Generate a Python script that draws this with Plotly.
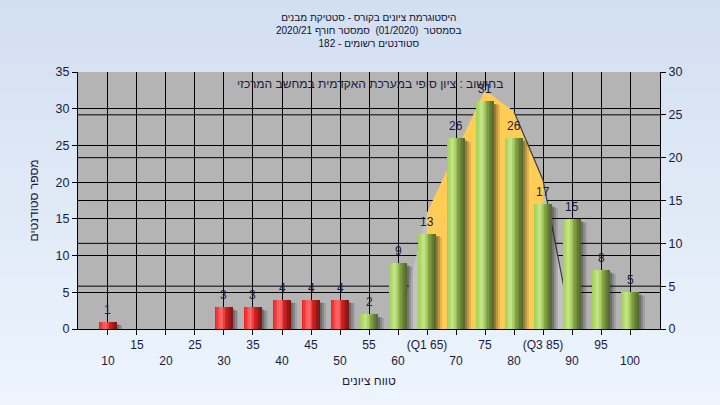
import plotly.graph_objects as go

# ---------------- data ----------------
grades = [10, 15, 20, 25, 30, 35, 40, 45, 50, 55, 60, 65, 70, 75, 80, 85, 90, 95, 100]
counts = [1, 0, 0, 0, 3, 3, 4, 4, 4, 2, 9, 13, 26, 31, 26, 17, 15, 8, 5]
tick_labels = ["10", "15", "20", "25", "30", "35", "40", "45", "50", "55", "60",
               "(Q1 65)", "70", "75", "80", "(Q3 85)", "90", "95", "100"]
curve_grades = [60, 65, 70, 75, 80, 85, 90]
curve_values = [0, 15.8, 24.2, 32.5, 29.6, 20.3, 0]
q1_grade = 65
q3_grade = 85
pass_grade = 55
left_ticks = [0, 5, 10, 15, 20, 25, 30, 35]
right_ticks = [0, 5, 10, 15, 20, 25, 30]
title_lines = ["היסטוגרמת ציונים בקורס - סטטיקת מבנים",
               "בסמסטר  (01/2020)  סמסטר חורף 2020/21",
               "סטודנטים רשומים - 182"]
note_text = "בחישוב : ציון סופי במערכת האקדמית במחשב המרכזי"
x_title = "טווח ציונים"
y_title = "מספר סטודנטים"

# ---------------- styling helpers ----------------
FONT = "Liberation Sans, Arial, Noto Sans, DejaVu Sans"
TXT = "#1a1a40"
BAR_W = 3.0
N_SLICES = 12

red_stops = [(0.0, (240, 25, 25)), (0.4, (252, 115, 115)), (0.62, (220, 35, 35)), (1.0, (120, 20, 20))]
green_stops = [(0.0, (160, 205, 80)), (0.35, (200, 232, 140)), (0.6, (140, 175, 70)), (1.0, (80, 100, 45))]


def interp(stops, t):
    for (t0, c0), (t1, c1) in zip(stops[:-1], stops[1:]):
        if t0 <= t <= t1:
            f = (t - t0) / (t1 - t0)
            return "rgb(%d,%d,%d)" % tuple(round(a + (b - a) * f) for a, b in zip(c0, c1))
    return "rgb(%d,%d,%d)" % stops[-1][1]


fig = go.Figure()

# distribution area (grey) and inter-quartile area (yellow) on the main (bottom) subplot
fig.add_trace(go.Scatter(x=curve_grades, y=curve_values, fill="toself", mode="lines",
                         line=dict(width=0), fillcolor="rgb(194,194,194)",
                         hoverinfo="skip", showlegend=False))
iqr_x = [q1_grade] + [g for g in curve_grades if q1_grade <= g <= q3_grade] + [q3_grade]
iqr_y = [0] + [v for g, v in zip(curve_grades, curve_values) if q1_grade <= g <= q3_grade] + [0]
fig.add_trace(go.Scatter(x=iqr_x, y=iqr_y, fill="toself", mode="lines",
                         line=dict(width=0), fillcolor="rgb(255,204,85)",
                         hoverinfo="skip", showlegend=False))
edge_x = [g for g in curve_grades if g >= 80]
edge_y = [v for g, v in zip(curve_grades, curve_values) if g >= 80]
fig.add_trace(go.Scatter(x=edge_x, y=edge_y, mode="lines",
                         line=dict(width=1.2, color="rgb(60,60,60)"),
                         hoverinfo="skip", showlegend=False))

# empty trace to anchor right axis
fig.add_trace(go.Scatter(x=[], y=[], yaxis="y2", showlegend=False))

# shadows (overlay subplot, above the areas)
for off, alpha, dy in [(1.0, 0.12, 0.5), (0.7, 0.18, 0.4), (0.45, 0.22, 0.3)]:
    fig.add_trace(go.Bar(x=grades, y=[max(c - dy, 0) if c > 0 else 0 for c in counts],
                         width=BAR_W, offset=-BAR_W / 2 + off, yaxis="y3",
                         marker=dict(color="rgba(20,20,20,%.2f)" % alpha, line=dict(width=0)),
                         hoverinfo="skip", showlegend=False))

# cylinder-shaded bars
for k in range(N_SLICES):
    t = (k + 0.5) / N_SLICES
    cols = [interp(green_stops if g >= pass_grade else red_stops, t) for g in grades]
    fig.add_trace(go.Bar(x=grades, y=counts, width=BAR_W / N_SLICES * 1.05,
                         offset=-BAR_W / 2 + k * BAR_W / N_SLICES, yaxis="y3",
                         marker=dict(color=cols, line=dict(width=0)),
                         hoverinfo="skip", showlegend=False))

shapes = []
# page gradient
n_strips = 30
for i in range(n_strips):
    f = i / (n_strips - 1)
    c = tuple(round(a + (b - a) * f) for a, b in zip((210, 223, 241), (238, 245, 253)))
    shapes.append(dict(type="rect", xref="paper", yref="paper", layer="below",
                       x0=-0.2, x1=1.2,
                       y0=1.3 - (i + 1) * 1.65 / n_strips, y1=1.3 - i * 1.65 / n_strips + 0.005,
                       fillcolor="rgb(%d,%d,%d)" % c, line=dict(width=0)))
# plot background
shapes.append(dict(type="rect", xref="x domain", yref="y domain", layer="below",
                   x0=0, x1=1, y0=0, y1=1, fillcolor="rgb(180,180,180)", line=dict(width=0)))
# right axis grid
for v in right_ticks[1:-1]:
    shapes.append(dict(type="line", xref="x domain", yref="y2", layer="below",
                       x0=0, x1=1, y0=v, y1=v, line=dict(color="black", width=1)))

ticktext = [lab if i % 2 == 1 else "<br>" + lab for i, lab in enumerate(tick_labels)]

annotations = [
    dict(text="<br>".join(title_lines), xref="paper", yref="paper", x=0.5, y=1.24,
         xanchor="center", yanchor="top", showarrow=False,
         font=dict(family=FONT, size=10, color="#101030")),
    dict(text=note_text, xref="paper", yref="paper", x=0.502, y=0.953,
         xanchor="center", yanchor="middle", showarrow=False,
         font=dict(family=FONT, size=12, color=TXT)),
    dict(text=x_title, xref="paper", yref="paper", x=0.5, y=-0.202,
         xanchor="center", yanchor="middle", showarrow=False,
         font=dict(family=FONT, size=12, color=TXT)),
]
# value labels above the bars
for g, c in zip(grades, counts):
    if c > 0:
        annotations.append(dict(x=g, y=c, xref="x", yref="y3", text=str(c), showarrow=False,
                                yanchor="middle", yshift=12,
                                font=dict(family=FONT, size=12, color=TXT)))

fig.update_layout(
    width=720, height=405, autosize=False,
    margin=dict(l=78, r=60, t=72, b=76),
    paper_bgcolor="rgb(225,234,247)", plot_bgcolor="rgb(180,180,180)",
    barmode="overlay", bargap=0,
    font=dict(family=FONT, size=12, color=TXT),
    shapes=shapes,
    xaxis=dict(range=[4.83, 105.17], tickmode="array", tickvals=grades, ticktext=ticktext,
               tickangle=0, automargin=False,
               showgrid=True, gridcolor="black", gridwidth=1,
               ticks="outside", ticklen=5, tickcolor="black",
               showline=True, linecolor="black", linewidth=1, zeroline=False,
               tickfont=dict(family=FONT, size=12, color=TXT)),
    yaxis=dict(range=[0, 35], tickvals=left_ticks, showgrid=True, gridcolor="black", gridwidth=1,
               ticks="outside", ticklen=5, tickcolor="black", automargin=False,
               showline=True, linecolor="black", linewidth=1, zeroline=False,
               tickfont=dict(family=FONT, size=12.5, color=TXT),
               title=dict(text=y_title, font=dict(family=FONT, size=12, color=TXT), standoff=14)),
    yaxis2=dict(range=[0, 30], tickvals=right_ticks, overlaying="y", side="right",
                showgrid=False, ticks="outside", ticklen=5, tickcolor="black", automargin=False,
                showline=True, linecolor="black", linewidth=1, zeroline=False,
                tickfont=dict(family=FONT, size=12.5, color=TXT)),
    yaxis3=dict(range=[0, 35], overlaying="y", visible=False, showgrid=False, zeroline=False),
    annotations=annotations,
)

fig.write_html("out.html", config={"displayModeBar": False},
               post_script="document.body.style.margin='0px';")
